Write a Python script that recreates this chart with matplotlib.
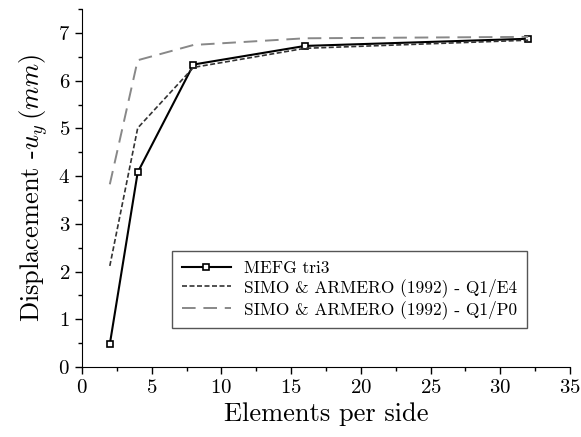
import matplotlib
matplotlib.use("Agg")
import matplotlib.pyplot as plt

plt.rcParams['font.family'] = 'cmr10'
plt.rcParams['mathtext.fontset'] = 'cm'
plt.rcParams['axes.unicode_minus'] = False
plt.rcParams['axes.formatter.use_mathtext'] = True

elements = [2, 4, 8, 16, 32]
mefg_tri3 = [0.48, 4.08, 6.34, 6.73, 6.88]
simo_q1e4 = [2.12, 5.01, 6.28, 6.68, 6.85]
simo_q1p0 = [3.83, 6.43, 6.75, 6.89, 6.92]

fig = plt.figure(figsize=(5.81, 4.37), dpi=100)
ax = fig.add_axes([0.141, 0.160, 0.840, 0.819])

ax.plot(elements, mefg_tri3, color='black', lw=1.5, marker='s', markersize=5,
        markerfacecolor='white', markeredgecolor='black', markeredgewidth=1.2,
        label='MEFG tri3')
ax.plot(elements, simo_q1e4, color='#333333', lw=1.2, dashes=(3, 1.5),
        label='SIMO & ARMERO (1992) - Q1/E4')
ax.plot(elements, simo_q1p0, color='#888888', lw=1.4, dashes=(7, 4),
        label='SIMO & ARMERO (1992) - Q1/P0')

ax.set_xlim(0, 35)
ax.set_ylim(0, 7.5)
ax.set_xticks(range(0, 36, 5))
ax.set_xticks([x + 2.5 for x in range(0, 35, 5)], minor=True)
ax.set_yticks(range(0, 8))
ax.set_yticks([y + 0.5 for y in range(0, 8)], minor=True)
ax.spines['top'].set_visible(False)
ax.spines['right'].set_visible(False)
ax.tick_params(which='major', direction='out', length=5, width=1, labelsize=15)
ax.tick_params(which='minor', direction='out', length=3, width=1)

ax.set_xlabel('Elements per side', fontsize=19, labelpad=4)
ax.set_ylabel(r'Displacement -$u_y\,(mm)$', fontsize=19, labelpad=6)

leg = ax.legend(loc='lower right', bbox_to_anchor=(0.93, 0.084), fontsize=12.5,
                fancybox=False, framealpha=1, edgecolor='#555555',
                handlelength=2.8, borderpad=0.55, labelspacing=0.15)
leg.get_frame().set_linewidth(1.0)

fig.savefig('out.png', dpi=100)
